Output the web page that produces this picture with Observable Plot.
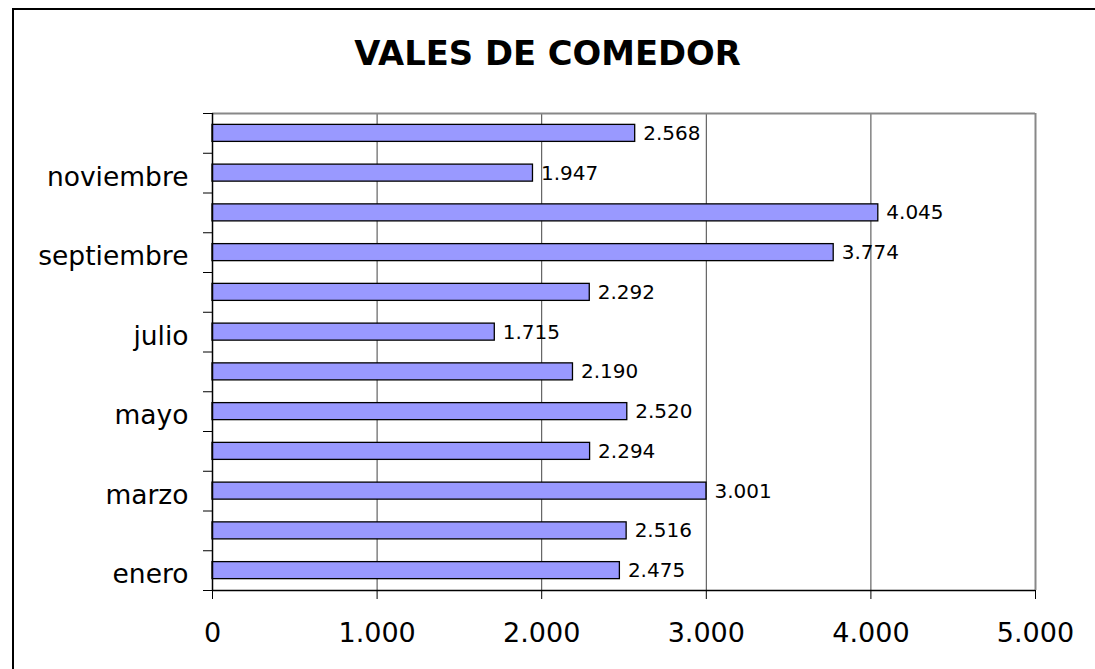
<!DOCTYPE html>
<html>
<head>
<meta charset="utf-8">
<script src="https://cdn.jsdelivr.net/npm/d3@7"></script>
<script src="https://cdn.jsdelivr.net/npm/@observablehq/plot@0.6"></script>
<style>
  html, body { margin: 0; padding: 0; background: #fff; }
  #wrap { position: relative; width: 1095px; height: 669px; overflow: hidden; background: #fff; font-family: "DejaVu Sans", Verdana, sans-serif; }
  #frame { position: absolute; left: 12px; top: 8px; width: 3000px; height: 3000px; border-left: 2px solid #000; border-top: 2px solid #000; pointer-events: none; }
  #title { box-sizing: border-box; height: 100px; padding-top: 36.8px; line-height: 33px; font-size: 33.8px; font-weight: bold; text-align: center; color: #000; }
  #chart svg { display: block; }
</style>
</head>
<body>
<div id="wrap">
  <div id="frame"></div>
  <div id="title">VALES DE COMEDOR</div>
  <div id="chart"></div>
</div>
<script>
const months = ["enero","febrero","marzo","abril","mayo","junio","julio","agosto","septiembre","octubre","noviembre","diciembre"];
const values = [2475, 2516, 3001, 2294, 2520, 2190, 1715, 2292, 3774, 4045, 1947, 2568];
const xTicks = [0, 1000, 2000, 3000, 4000, 5000];
const labeledMonths = ["enero","marzo","mayo","julio","septiembre","noviembre"];

const data = months.map((m, i) => ({month: m, i, value: values[i]}));
const fmt = d => d3.format(",")(d).replace(/,/g, ".");
const half = 0.214;
const boundaries = d3.range(months.length + 1).map(k => k - 0.5);
const labelIdx = labeledMonths.map(m => months.indexOf(m));

const chart = Plot.plot({
  width: 1095,
  height: 569,
  marginTop: 13,
  marginBottom: 79,
  marginLeft: 212,
  marginRight: 60,
  style: {background: "#fff", fontFamily: "DejaVu Sans, Verdana, sans-serif", color: "#000", overflow: "visible"},
  x: {domain: [0, 5000], label: null},
  y: {domain: [-0.5, months.length - 0.5], label: null},
  marks: [
    Plot.ruleX(xTicks.slice(1, -1), {stroke: "#444", strokeWidth: 1}),
    Plot.ruleX([5000], {stroke: "#888", strokeWidth: 2}),
    Plot.ruleY([months.length - 0.5], {stroke: "#888", strokeWidth: 2}),
    Plot.rectX(data, {x1: 0, x2: "value", y1: d => d.i - half, y2: d => d.i + half, fill: "#9999FF", stroke: "#000", strokeWidth: 1.3}),
    Plot.text(data, {x: "value", y: "i", text: d => fmt(d.value), dx: 8, textAnchor: "start", fontSize: 20, fill: "#000"}),
    Plot.ruleX([0], {stroke: "#000", strokeWidth: 1.5}),
    Plot.ruleY([-0.5], {stroke: "#000", strokeWidth: 1.5}),
    Plot.axisX(xTicks, {tickSize: 9, tickPadding: 23, tickFormat: fmt, fontSize: 27, stroke: "#000", label: null}),
    Plot.axisY(boundaries, {tickSize: 9, tickFormat: () => "", stroke: "#000", label: null}),
    Plot.axisY(labelIdx, {tickSize: 0, tickPadding: 24, tickFormat: i => months[i], fontSize: 26.5, dy: 4, label: null})
  ]
});
document.getElementById("chart").appendChild(chart);
</script>
</body>
</html>
